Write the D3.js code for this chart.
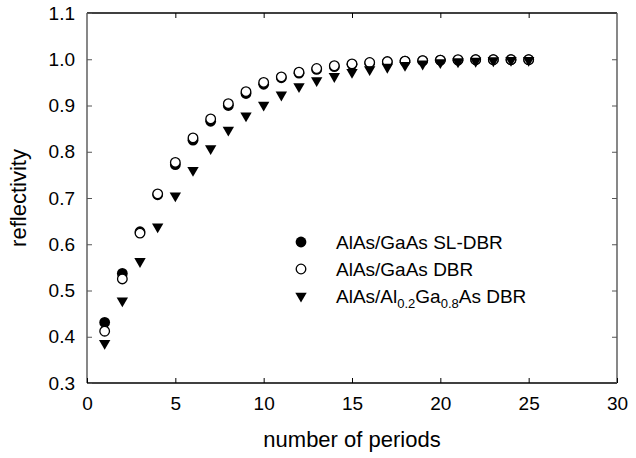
<!DOCTYPE html>
<html>
<head>
<meta charset="utf-8">
<script src="https://cdn.jsdelivr.net/npm/d3@7"></script>
<style>
  body { margin: 0; background: #fff; }
  svg { font-family: "Liberation Sans", Arial, sans-serif; }
  text { fill: #000; }
</style>
</head>
<body>
<svg width="636" height="458"></svg>
<script>
"use strict";

// values
const periods = d3.range(1, 26);
const slDbr = [0.431, 0.537, 0.627, 0.707, 0.772, 0.825, 0.866, 0.900, 0.926, 0.946,
  0.960, 0.970, 0.978, 0.984, 0.989, 0.992, 0.994, 0.996, 0.997, 0.998,
  0.998, 0.999, 0.999, 0.999, 0.999];
const dbr = [0.412, 0.525, 0.624, 0.709, 0.777, 0.830, 0.871, 0.904, 0.930, 0.950,
  0.962, 0.972, 0.980, 0.986, 0.990, 0.993, 0.995, 0.996, 0.997, 0.998,
  0.999, 0.999, 0.999, 0.999, 0.999];
const alGaDbr = [0.386, 0.478, 0.563, 0.638, 0.705, 0.760, 0.807, 0.847, 0.878, 0.901,
  0.923, 0.941, 0.954, 0.963, 0.972, 0.978, 0.983, 0.987, 0.990, 0.993,
  0.995, 0.996, 0.997, 0.998, 0.998];
const xTicks = [0, 5, 10, 15, 20, 25, 30];
const yTicks = [0.3, 0.4, 0.5, 0.6, 0.7, 0.8, 0.9, 1.0, 1.1];

const svg = d3.select("svg");
const margin = { top: 13, right: 19, bottom: 75, left: 87 };
const width = 636 - margin.left - margin.right;
const height = 458 - margin.top - margin.bottom;

const g = svg.append("g").attr("transform", `translate(${margin.left},${margin.top})`);

const x = d3.scaleLinear().domain([0, 30]).range([0, width]);
const y = d3.scaleLinear().domain([0.3, 1.1]).range([height, 0]);

// frame
g.append("line").attr("x1", 0).attr("x2", width).attr("y1", height).attr("y2", height)
  .attr("stroke", "#000").attr("stroke-width", 1.4);
g.append("line").attr("x1", 0).attr("x2", width).attr("y1", 0).attr("y2", 0)
  .attr("stroke", "#000").attr("stroke-width", 1.4);
g.append("line").attr("x1", 0).attr("x2", 0).attr("y1", 0).attr("y2", height)
  .attr("stroke", "#555").attr("stroke-width", 1.4);
g.append("line").attr("x1", width).attr("x2", width).attr("y1", 0).attr("y2", height)
  .attr("stroke", "#555").attr("stroke-width", 1.4);

const tickLen = 5;

// bottom axis, ticks pointing inward
const xAxis = g.append("g").attr("transform", `translate(0,${height})`)
  .call(d3.axisBottom(x).tickValues(xTicks).tickSizeInner(-tickLen).tickSizeOuter(0).tickPadding(14)
    .tickFormat(d3.format("d")));
xAxis.select(".domain").remove();
xAxis.selectAll("text").style("font-size", "19px").attr("fill", "#000");

// top ticks
g.append("g")
  .call(d3.axisTop(x).tickValues(xTicks.slice(1, -1)).tickSizeInner(-tickLen).tickSizeOuter(0).tickFormat(""))
  .select(".domain").remove();

// left axis
const yAxis = g.append("g")
  .call(d3.axisLeft(y).tickValues(yTicks).tickSizeInner(-tickLen).tickSizeOuter(0).tickPadding(12)
    .tickFormat(d3.format(".1f")));
yAxis.select(".domain").remove();
yAxis.selectAll("text").style("font-size", "19px").attr("fill", "#000");
yAxis.selectAll("line").attr("stroke", "#555");

// right ticks
g.append("g").attr("transform", `translate(${width},0)`)
  .call(d3.axisRight(y).tickValues(yTicks.slice(1, -1)).tickSizeInner(-tickLen).tickSizeOuter(0).tickFormat(""))
  .call((a) => a.select(".domain").remove())
  .selectAll("line").attr("stroke", "#555");

// axis titles
svg.append("text")
  .attr("x", margin.left + width / 2).attr("y", 447)
  .attr("text-anchor", "middle").style("font-size", "22px")
  .text("number of periods");
svg.append("text")
  .attr("transform", `translate(26,${margin.top + height / 2}) rotate(-90)`)
  .attr("text-anchor", "middle").style("font-size", "22px")
  .text("reflectivity");

const tri = d3.symbol().type(d3.symbolTriangle).size(56);
const r = 5.4;

// filled circles (SL-DBR)
g.append("g").selectAll("circle").data(slDbr).join("circle")
  .attr("cx", (d, i) => x(periods[i])).attr("cy", (d) => y(d)).attr("r", r)
  .attr("fill", "#000");

// open circles (DBR)
g.append("g").selectAll("circle").data(dbr).join("circle")
  .attr("cx", (d, i) => x(periods[i])).attr("cy", (d) => y(d)).attr("r", r - 0.6)
  .attr("fill", "#fff").attr("stroke", "#000").attr("stroke-width", 1.3);

// down triangles (AlAs/Al0.2Ga0.8As)
g.append("g").selectAll("path").data(alGaDbr).join("path")
  .attr("d", tri)
  .attr("transform", (d, i) => `translate(${x(periods[i])},${y(d)}) rotate(180)`)
  .attr("fill", "#000");

// legend
const legend = svg.append("g").attr("transform", "translate(301,242)");
const rowGap = 27;
legend.append("circle").attr("cx", 0).attr("cy", 0).attr("r", r).attr("fill", "#000");
legend.append("circle").attr("cx", 0).attr("cy", rowGap).attr("r", r - 0.6)
  .attr("fill", "#fff").attr("stroke", "#000").attr("stroke-width", 1.3);
legend.append("path").attr("d", tri)
  .attr("transform", `translate(0,${rowGap * 2}) rotate(180)`).attr("fill", "#000");

const labels = legend.append("g").style("font-size", "19px").attr("fill", "#000");
labels.append("text").attr("x", 35).attr("y", 7).text("AlAs/GaAs SL-DBR");
labels.append("text").attr("x", 35).attr("y", rowGap + 7).text("AlAs/GaAs DBR");
const t3 = labels.append("text").attr("x", 35).attr("y", rowGap * 2 + 7);
t3.append("tspan").text("AlAs/Al");
t3.append("tspan").attr("dy", 5).style("font-size", "13px").style("fill", "#000").text("0.2");
t3.append("tspan").attr("dy", -5).text("Ga");
t3.append("tspan").attr("dy", 5).style("font-size", "13px").style("fill", "#000").text("0.8");
t3.append("tspan").attr("dy", -5).text("As DBR");
</script>
</body>
</html>
